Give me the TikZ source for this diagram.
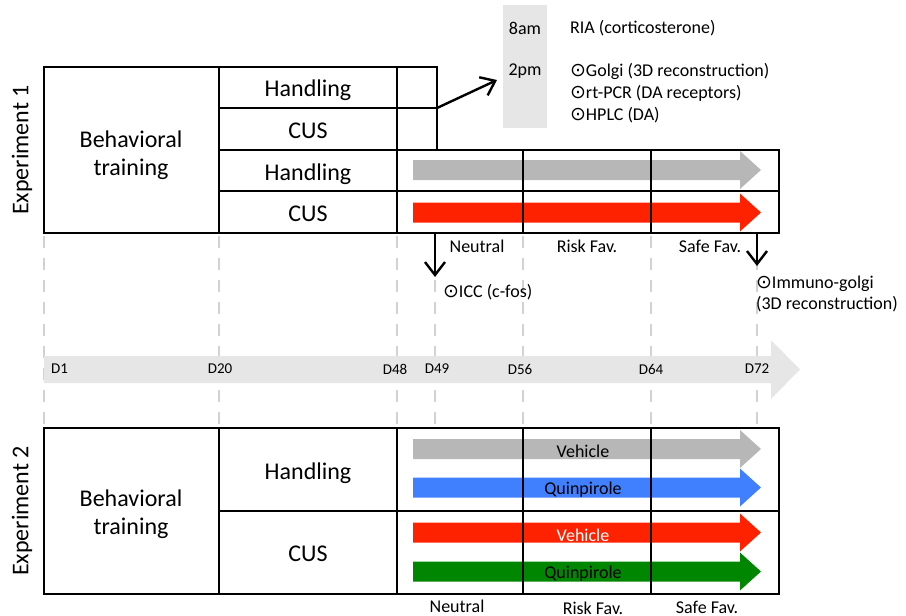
\documentclass[tikz,border=0pt]{standalone}
\usepackage{fontspec}
\setmainfont{Carlito}
\newfontfamily\symfont{DejaVu Sans}
\usetikzlibrary{arrows.meta}
\definecolor{barred}{RGB}{255,34,0}
\definecolor{barblue}{RGB}{64,128,255}
\definecolor{bargreen}{RGB}{0,134,0}
\definecolor{bargray}{RGB}{183,183,183}
\definecolor{pale}{RGB}{230,230,230}
\newcommand{\probe}{{\symfont\fontsize{9.5}{10}\selectfont\char"2299}}
% block arrow across the test phase: colour, centre line
\newcommand{\fatarrow}[2]{%
  \fill[#1] (413,#2-10) -- (740,#2-10) -- (740,#2-19) -- (761,#2)
    -- (740,#2+19) -- (740,#2+10) -- (413,#2+10) -- cycle;}
\tikzset{
  grid/.style={line width=1.3pt},
  big/.style={font=\fontsize{12}{14}\selectfont},
  small/.style={font=\fontsize{9}{10.5}\selectfont},
  day/.style={font=\fontsize{7.5}{9}\selectfont},
  guide/.style={pale!80!gray, line width=1pt, dash pattern=on 6pt off 5pt},
  pointer/.style={line width=1.2pt, -{Straight Barb[length=6.5pt,width=10pt,line width=1.2pt]}},
}
\begin{document}
\begin{tikzpicture}[x=0.5pt,y=-0.5pt]
    \useasboundingbox (0,0) rectangle (906,616);

    % Guide lines between the two experiments
    \foreach \xd in {44,219,397,435,523,651,757}
        \draw[guide] (\xd,236) -- (\xd,426);

    % Time line
    \fill[pale] (44,356) -- (771,356) -- (771,340) -- (800,369.5)
        -- (771,399) -- (771,383) -- (44,383) -- cycle;
    \node[day, anchor=west] (d1) at (44,369) {D1};
    \node[day] (d20) at (220,369) {D20};
    \node[day] (d48) at (395,369) {D48};
    \node[day] (d49) at (437,369) {D49};
    \node[day] (d56) at (520,369) {D56};
    \node[day] (d64) at (651,369) {D64};
    \node[day] (d72) at (757,369) {D72};

    % Experiment 1
    \node[big, rotate=90] (exp1) at (22,150) {Experiment 1};
    \fatarrow{bargray}{170}
    \fatarrow{barred}{212.5}
    \draw[grid] (44,67) rectangle (397,233);
    \draw[grid] (219,67) -- (219,233);
    \draw[grid] (219,108) -- (437,108);
    \draw[grid] (219,150) -- (779,150);
    \draw[grid] (219,191) -- (779,191);
    \draw[grid] (397,67) rectangle (437,150);
    \draw[grid] (397,150) rectangle (779,233);
    \draw[grid] (523,150) -- (523,233);
    \draw[grid] (651,150) -- (651,233);
    \node[big, align=center] (train1) at (131,155) {Behavioral\\training};
    \node[big] (hand1a) at (308,90) {Handling};
    \node[big] (cus1a) at (308,131) {CUS};
    \node[big] (hand1b) at (308,174) {Handling};
    \node[big] (cus1b) at (308,214) {CUS};
    \node[small] (neut1) at (477,246) {Neutral};
    \node[small] (risk1) at (587,246) {Risk Fav.};
    \node[small] (safe1) at (710,246) {Safe Fav.};

    % Sampling at D48
    \fill[pale] (503,5) rectangle (547,128);
    \node[small] (am) at (525,28) {8am};
    \node[small] (pm) at (525,71) {2pm};
    \node[small, anchor=west] (ria) at (563,28) {RIA (corticosterone)};
    \node[small, anchor=west] (golgi) at (563,71) {\probe Golgi (3D reconstruction)};
    \node[small, anchor=west] (pcr) at (563,93) {\probe rt-PCR (DA receptors)};
    \node[small, anchor=west] (hplc) at (563,115) {\probe HPLC (DA)};
    \coordinate (box48) at (437,108);
    \coordinate (tip48) at (497,80);
    \draw[pointer] (box48) -- (tip48);

    % Sampling at D49 and D72
    \coordinate (top49) at (435,233);
    \coordinate (end49) at (435,277);
    \draw[pointer] (top49) -- (end49);
    \node[small, anchor=west] (icc) at (436,292) {\probe ICC (c-fos)};
    \coordinate (top72) at (757,233);
    \coordinate (end72) at (757,266);
    \draw[pointer] (top72) -- (end72);
    \node[small, anchor=west, align=left] (immuno) at (749,294)
        {\probe Immuno-golgi\\(3D reconstruction)};

    % Experiment 2
    \node[big, rotate=90] (exp2) at (22,511) {Experiment 2};
    \fatarrow{bargray}{449}
    \fatarrow{barblue}{487.5}
    \fatarrow{barred}{532.5}
    \fatarrow{bargreen}{571.5}
    \draw[grid] (44,428) rectangle (779,594);
    \draw[grid] (219,428) -- (219,594);
    \draw[grid] (397,428) -- (397,594);
    \draw[grid] (219,511) -- (779,511);
    \draw[grid] (523,428) -- (523,594);
    \draw[grid] (651,428) -- (651,594);
    \node[small] (veh2a) at (583,451) {Vehicle};
    \node[small] (quin2a) at (583,490) {Quinpirole};
    \node[small, white] (veh2b) at (583,535) {Vehicle};
    \node[small] (quin2b) at (583,574) {Quinpirole};
    \node[big, align=center] (train2) at (131,514) {Behavioral\\training};
    \node[big] (hand2) at (308,473) {Handling};
    \node[big] (cus2) at (308,554) {CUS};
    \node[small] (neut2) at (457,606) {Neutral};
    \node[small] (risk2) at (593,608) {Risk Fav.};
    \node[small] (safe2) at (707,607) {Safe Fav.};
\end{tikzpicture}
\end{document}
